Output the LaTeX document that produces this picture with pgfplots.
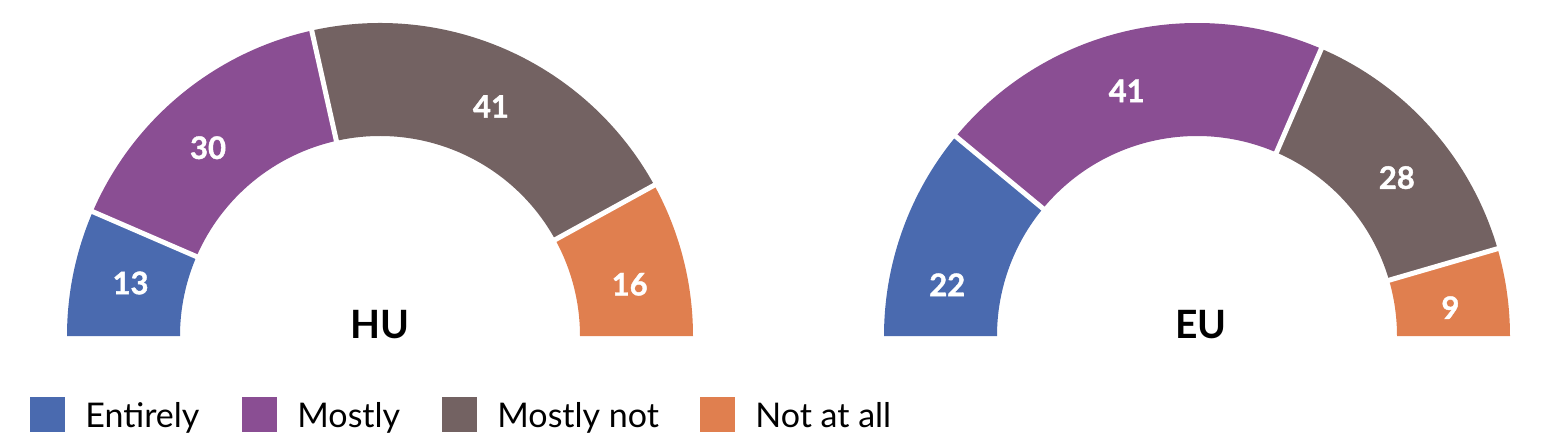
\documentclass[border=0pt]{standalone}
\usepackage{fontspec}
\setmainfont{Lato}
\newfontfamily\labfont{Lato}[BoldFeatures={FakeBold=1.3}]
\usepackage{pgfplots}
\usepackage{pgfplotstable}
\pgfplotsset{compat=1.18}

\definecolor{cEnt}{HTML}{4A6AAF}
\definecolor{cMost}{HTML}{8A4E93}
\definecolor{cMnot}{HTML}{736262}
\definecolor{cNot}{HTML}{E07F4F}

% share of answers, per cent; lab = angle of the value label
\pgfplotstableread{
cat       val col   lab
Entirely  13  cEnt  168
Mostly    30  cMost 132.4
Mostlynot 41  cMnot 64.2
Notatall  16  cNot  11.7
}\hu
\pgfplotstableread{
cat       val col   lab
Entirely  22  cEnt  168.4
Mostly    41  cMost 106
Mostlynot 28  cMnot 38.4
Notatall  9   cNot  6.4
}\eu

% half donut: #1 table, #2 centre x (axis units = pixels)
\newcommand\halfdonut[2]{%
  \def\acc{0}%
  \pgfplotsforeachungrouped \i in {0,...,3}{%
    \pgfplotstablegetelem{\i}{val}\of{#1}\let\v\pgfplotsretval
    \pgfplotstablegetelem{\i}{col}\of{#1}\let\c\pgfplotsretval
    \pgfplotstablegetelem{\i}{lab}\of{#1}\let\aL\pgfplotsretval
    \pgfmathsetmacro\aS{180-\acc*1.8}%
    \pgfmathsetmacro\aE{180-(\acc+\v)*1.8}%
    \fill[\c] (axis cs:{#2+313*cos(\aS)},{110+313*sin(\aS)})
      arc[start angle=\aS, end angle=\aE, radius=156.5pt]
      -- (axis cs:{#2+200*cos(\aE)},{110+200*sin(\aE)})
      arc[start angle=\aE, end angle=\aS, radius=100pt] -- cycle;
    \node[text=white, font=\labfont\bfseries\fontsize{15.5}{18}\selectfont]
      at (axis cs:{#2+255*cos(\aL)},{110+255*sin(\aL)}) {\v};
    \pgfmathsetmacro\acc{\acc+\v}%
  }%
  % white gaps between the segments
  \def\acc{0}%
  \pgfplotsforeachungrouped \i in {0,...,2}{%
    \pgfplotstablegetelem{\i}{val}\of{#1}\let\v\pgfplotsretval
    \pgfmathsetmacro\acc{\acc+\v}%
    \pgfmathsetmacro\aE{180-\acc*1.8}%
    \draw[white, line width=2.5pt]
      (axis cs:{#2+196*cos(\aE)},{110+196*sin(\aE)})
      -- (axis cs:{#2+317*cos(\aE)},{110+317*sin(\aE)});
  }%
}

\newcommand\legitem[3]{% square x, colour, text
  \fill[#2] (axis cs:#1,14) rectangle (axis cs:#1+35,49);
  \node[anchor=base west, inner sep=0pt, font=\fontsize{17}{20}\selectfont]
    at (axis cs:#1+55,19) {#3};
}

\begin{document}
\begin{tikzpicture}
\begin{axis}[
  x=0.5pt, y=0.5pt,
  xmin=0, xmax=1548, ymin=0, ymax=446,
  hide axis, clip=false,
]
\pgfplotsextra{%
  \halfdonut{\hu}{380}
  \halfdonut{\eu}{1197}
  \node[anchor=base, inner sep=0pt, font=\bfseries\fontsize{19.5}{23}\selectfont]
    at (axis cs:380,108) {HU};
  \node[anchor=base, inner sep=0pt, font=\bfseries\fontsize{19.5}{23}\selectfont]
    at (axis cs:1201,108) {EU};
  \legitem{30}{cEnt}{Entirely}
  \legitem{242}{cMost}{Mostly}
  \legitem{442}{cMnot}{Mostly not}
  \legitem{700}{cNot}{Not at all}
}
\end{axis}
\pgfresetboundingbox
\path (0,0) rectangle (774pt,223pt);
\end{tikzpicture}
\end{document}
